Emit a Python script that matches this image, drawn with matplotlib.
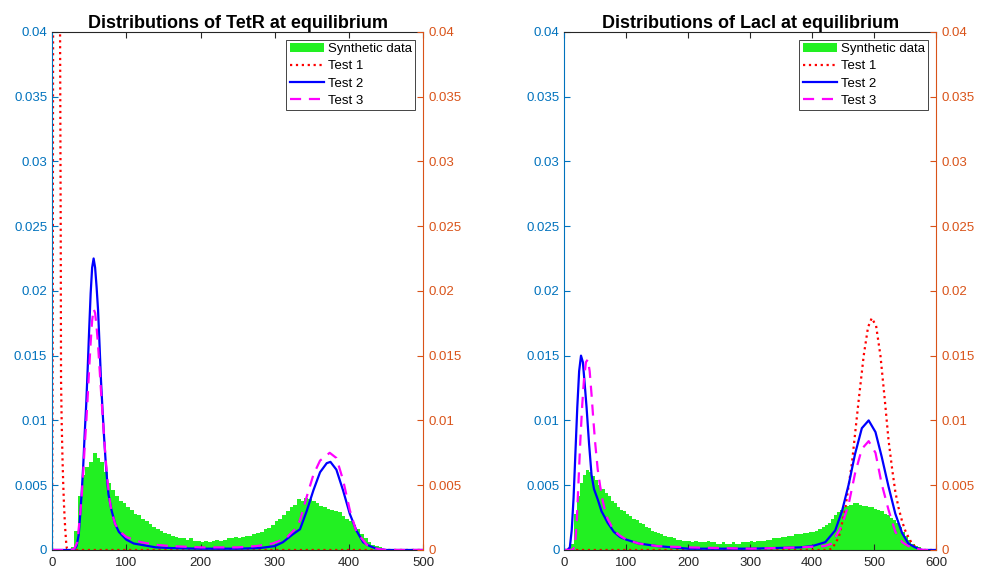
import matplotlib
matplotlib.use('Agg')
import matplotlib.pyplot as plt
from matplotlib.ticker import FuncFormatter, MultipleLocator
import numpy as np

plt.rcParams['font.family'] = ['Liberation Sans', 'DejaVu Sans']

# ---- histogram data (bin width 5) ----
bin_width = 5
tetr_hist = [
    0, 0, 0, 0, 0, 0.0002, 0.0015, 0.0042, 0.0058, 0.0064,
    0.0068, 0.0075, 0.0071, 0.0068, 0.006, 0.0052, 0.0046, 0.0042, 0.0038, 0.0036,
    0.0033, 0.0031, 0.0028, 0.0027, 0.0024, 0.0022, 0.002, 0.0018, 0.0016, 0.0015,
    0.0013, 0.0012, 0.0011, 0.001, 0.0009, 0.0009, 0.0008, 0.0009, 0.0007, 0.0007,
    0.0006, 0.0007, 0.0006, 0.0007, 0.0008, 0.0007, 0.0008, 0.0009, 0.0009, 0.001,
    0.0009, 0.001, 0.0011, 0.0011, 0.0012, 0.0013, 0.0014, 0.0016, 0.0017, 0.0019,
    0.0022, 0.0024, 0.0027, 0.003, 0.0033, 0.0035, 0.0039, 0.0038, 0.004, 0.0039,
    0.0038, 0.0036, 0.0034, 0.0033, 0.0032, 0.0031, 0.003, 0.0029, 0.0026, 0.0024,
    0.0022, 0.0019, 0.0016, 0.0012, 0.0009, 0.0006, 0.0004, 0.0003, 0.0002, 0.0001,
    0.0001, 0, 0, 0, 0, 0, 0, 0, 0, 0,
]
laci_hist = [
    0, 0, 0.0005, 0.0028, 0.0042, 0.0052, 0.0058, 0.0062, 0.006, 0.0057,
    0.0054, 0.005, 0.0047, 0.0044, 0.0042, 0.0038, 0.0036, 0.0033, 0.0031, 0.003,
    0.0028, 0.0026, 0.0024, 0.0023, 0.0021, 0.002, 0.0018, 0.0017, 0.0015, 0.0014,
    0.0013, 0.0012, 0.0011, 0.001, 0.001, 0.0009, 0.0008, 0.0008, 0.0007, 0.0007,
    0.0007, 0.0006, 0.0007, 0.0006, 0.0006, 0.0006, 0.0007, 0.0006, 0.0006, 0.0005,
    0.0005, 0.0006, 0.0005, 0.0005, 0.0006, 0.0005, 0.0005, 0.0006, 0.0006, 0.0006,
    0.0007, 0.0006, 0.0007, 0.0007, 0.0007, 0.0008, 0.0008, 0.0009, 0.0009, 0.0009,
    0.001, 0.001, 0.0011, 0.0011, 0.0012, 0.0012, 0.0012, 0.0013, 0.0013, 0.0014,
    0.0014, 0.0015, 0.0016, 0.0018, 0.0019, 0.0021, 0.0024, 0.0027, 0.0029, 0.0031,
    0.0033, 0.0034, 0.0035, 0.0036, 0.0036, 0.0035, 0.0034, 0.0034, 0.0033, 0.0033,
    0.0032, 0.0031, 0.003, 0.0028, 0.0027, 0.0025, 0.0023, 0.0021, 0.0018, 0.0014,
    0.0011, 0.0008, 0.0005, 0.0003, 0.0002, 0.0001, 0, 0, 0, 0,
]

# ---- fitted curves, TetR ----
tetr_t1_x = [0, 1, 1.5, 3, 6, 9, 10.8, 11.7, 12.1, 13, 14, 15, 16, 17, 18, 19, 20, 22, 500]
tetr_t1_y = [0, 0.02, 0.045, 0.1, 0.09, 0.06, 0.04, 0.024, 0.0131, 0.0098, 0.0072, 0.0052,
             0.0036, 0.0024, 0.0014, 0.0006, 0.0001, 0, 0]
tetr_t2_x = [0, 25, 30, 33, 36, 38, 40, 42, 44, 46, 48, 50, 52, 54, 56, 58, 60, 62, 64, 66,
             68, 70, 72, 74, 76, 80, 85, 90, 95, 100, 110, 120, 140, 160, 200, 250, 280, 300,
             311, 324, 334, 343, 352, 361, 370, 375, 383, 392, 401, 410, 419, 428, 437, 450, 500]
tetr_t2_y = [0, 0, 0.00005, 0.0003, 0.0012, 0.0028, 0.0045, 0.0065, 0.009, 0.0112, 0.014,
             0.017, 0.0198, 0.0218, 0.0225, 0.0218, 0.0203, 0.0185, 0.0158, 0.013, 0.0108,
             0.0088, 0.007, 0.0055, 0.0043, 0.0031, 0.002, 0.0014, 0.0011, 0.0008, 0.0005,
             0.0004, 0.0002, 0.00015, 0.0001, 0.0001, 0.00015, 0.0003, 0.0006, 0.0012, 0.0016,
             0.003, 0.0046, 0.006, 0.0067, 0.0068, 0.0062, 0.0046, 0.0028, 0.0015, 0.0006,
             0.0003, 0.0001, 0, 0]
tetr_t3_x = [0, 25, 30, 34, 38, 40, 42, 44, 46, 48, 50, 52, 54, 56, 58, 60, 62, 64, 66, 68,
             70, 72, 74, 76, 78, 80, 85, 90, 100, 110, 120, 140, 160, 200, 250, 275, 297, 315,
             329, 334, 343, 352, 361, 374, 383, 392, 401, 410, 424, 437, 450, 500]
tetr_t3_y = [0, 0, 0.0001, 0.0006, 0.0028, 0.0042, 0.006, 0.008, 0.0098, 0.0118, 0.014,
             0.016, 0.0177, 0.0186, 0.0183, 0.0172, 0.0158, 0.014, 0.0122, 0.0105, 0.0088,
             0.0072, 0.0058, 0.0046, 0.0037, 0.003, 0.002, 0.0015, 0.001, 0.0008, 0.0006,
             0.0004, 0.0003, 0.0002, 0.0002, 0.0003, 0.0005, 0.0009, 0.0017, 0.0023, 0.0041,
             0.0058, 0.0069, 0.0075, 0.0071, 0.0054, 0.0031, 0.0014, 0.0004, 0.0001, 0, 0]

# ---- fitted curves, LacI ----
laci_t1_x = [0, 425, 432, 443, 453, 464, 475, 483, 490, 496, 503, 510, 517, 523, 529, 534,
             539, 545, 550, 556, 561, 567, 572, 580, 600]
laci_t1_y = [0, 0, 0.0001, 0.001, 0.0031, 0.0067, 0.0116, 0.015, 0.0172, 0.0179, 0.0173,
             0.015, 0.0116, 0.0085, 0.0062, 0.0045, 0.0033, 0.0022, 0.0015, 0.0009, 0.0005,
             0.0002, 0.0001, 0, 0]
laci_t2_x = [0, 5, 9, 12, 15, 18, 21, 24, 27, 30, 33, 36, 40, 44, 48, 54, 60, 70, 80, 90,
             100, 120, 150, 200, 300, 380, 400, 421, 437, 448, 459, 469, 480, 491, 502, 512,
             523, 534, 545, 555, 566, 577, 600]
laci_t2_y = [0, 0, 0.0002, 0.0015, 0.004, 0.0075, 0.011, 0.0138, 0.015, 0.0145, 0.0128,
             0.011, 0.0082, 0.0058, 0.0047, 0.0039, 0.003, 0.0021, 0.0014, 0.001, 0.0008,
             0.0005, 0.0003, 0.0001, 0.0001, 0.0002, 0.0003, 0.0006, 0.0015, 0.003, 0.0051,
             0.0074, 0.0094, 0.01, 0.0091, 0.0072, 0.0049, 0.0028, 0.0013, 0.0005, 0.0002, 0, 0]
laci_t3_x = [0, 12, 17, 20, 23, 26, 29, 32, 35, 38, 41, 44, 47, 50, 54, 58, 62, 66, 70, 80,
             90, 100, 120, 150, 200, 300, 380, 420, 432, 448, 459, 469, 480, 491, 502, 512,
             523, 534, 545, 555, 566, 580, 600]
laci_t3_y = [0, 0, 0.0002, 0.002, 0.0053, 0.0085, 0.0112, 0.0133, 0.0145, 0.0147, 0.0138,
             0.012, 0.01, 0.0082, 0.0062, 0.0049, 0.0038, 0.003, 0.0024, 0.0015, 0.0011,
             0.0008, 0.0005, 0.0003, 0.0002, 0.0001, 0.0002, 0.0003, 0.0005, 0.0019, 0.0036,
             0.0059, 0.0078, 0.0084, 0.0075, 0.0051, 0.0031, 0.0014, 0.0006, 0.0003, 0.0001,
             0, 0]

LEFT_C = '#0072BD'
RIGHT_C = '#D95319'
DARK = '#262626'


def fmt(v, pos):
    return '%g' % round(v, 4)


def draw_panel(rect, title, hist, xmax, t1, t2, t3):
    ax = fig.add_axes(rect)
    edges = np.arange(len(hist)) * bin_width
    h0 = ax.bar(edges, hist, width=bin_width, align='edge', color='#22f022',
                edgecolor='none')
    h1, = ax.plot(t1[0], t1[1], color='#ff0000', linestyle=':', lw=1.6)
    h2, = ax.plot(t2[0], t2[1], color='#0000ff', linestyle='-', lw=1.6)
    h3, = ax.plot(t3[0], t3[1], color='#ff00ff', linestyle=(0, (5, 3.5)), lw=1.6)

    ax.set_xlim(0, xmax)
    ax.set_ylim(0, 0.04)
    ax.xaxis.set_major_locator(MultipleLocator(100))
    ax.yaxis.set_major_locator(MultipleLocator(0.005))
    ax.yaxis.set_major_formatter(FuncFormatter(fmt))
    ax.tick_params(axis='x', direction='in', top=True, colors=DARK, labelsize=9.5,
                   length=4, width=0.8, pad=5)
    ax.tick_params(axis='y', direction='in', colors=LEFT_C, labelsize=9.5,
                   length=4, width=0.8)
    ax.spines['left'].set_color(LEFT_C)
    ax.spines['right'].set_visible(False)
    ax.spines['top'].set_color(DARK)
    ax.spines['bottom'].set_color(DARK)
    for s in ax.spines.values():
        s.set_linewidth(0.8)
    ax.set_title(title, fontsize=13, fontweight='bold', pad=3)

    ax2 = ax.twinx()
    ax2.set_ylim(0, 0.04)
    ax2.yaxis.set_major_locator(MultipleLocator(0.005))
    ax2.yaxis.set_major_formatter(FuncFormatter(fmt))
    ax2.tick_params(axis='y', direction='in', colors=RIGHT_C, labelsize=9.5,
                    length=4, width=0.8)
    for k in ['left', 'top', 'bottom']:
        ax2.spines[k].set_visible(False)
    ax2.spines['right'].set_color(RIGHT_C)
    ax2.spines['right'].set_linewidth(0.8)

    leg = ax2.legend([h0, h1, h2, h3], ['Synthetic data', 'Test 1', 'Test 2', 'Test 3'],
                     loc='upper right', fontsize=9.5,
                     fancybox=False, framealpha=1, edgecolor=DARK, borderpad=0.25,
                     labelspacing=0.38, handlelength=2.6, handletextpad=0.3,
                     borderaxespad=0.6)
    leg.get_frame().set_linewidth(0.6)
    return ax


fig = plt.figure(figsize=(9.82, 5.72), dpi=100)
draw_panel([0.053, 0.0385, 0.378, 0.906], 'Distributions of TetR at equilibrium',
           tetr_hist, 500, (tetr_t1_x, tetr_t1_y), (tetr_t2_x, tetr_t2_y), (tetr_t3_x, tetr_t3_y))
draw_panel([0.5746, 0.0385, 0.3788, 0.906], 'Distributions of LacI at equilibrium',
           laci_hist, 600, (laci_t1_x, laci_t1_y), (laci_t2_x, laci_t2_y), (laci_t3_x, laci_t3_y))

fig.savefig('out.png', dpi=100)
